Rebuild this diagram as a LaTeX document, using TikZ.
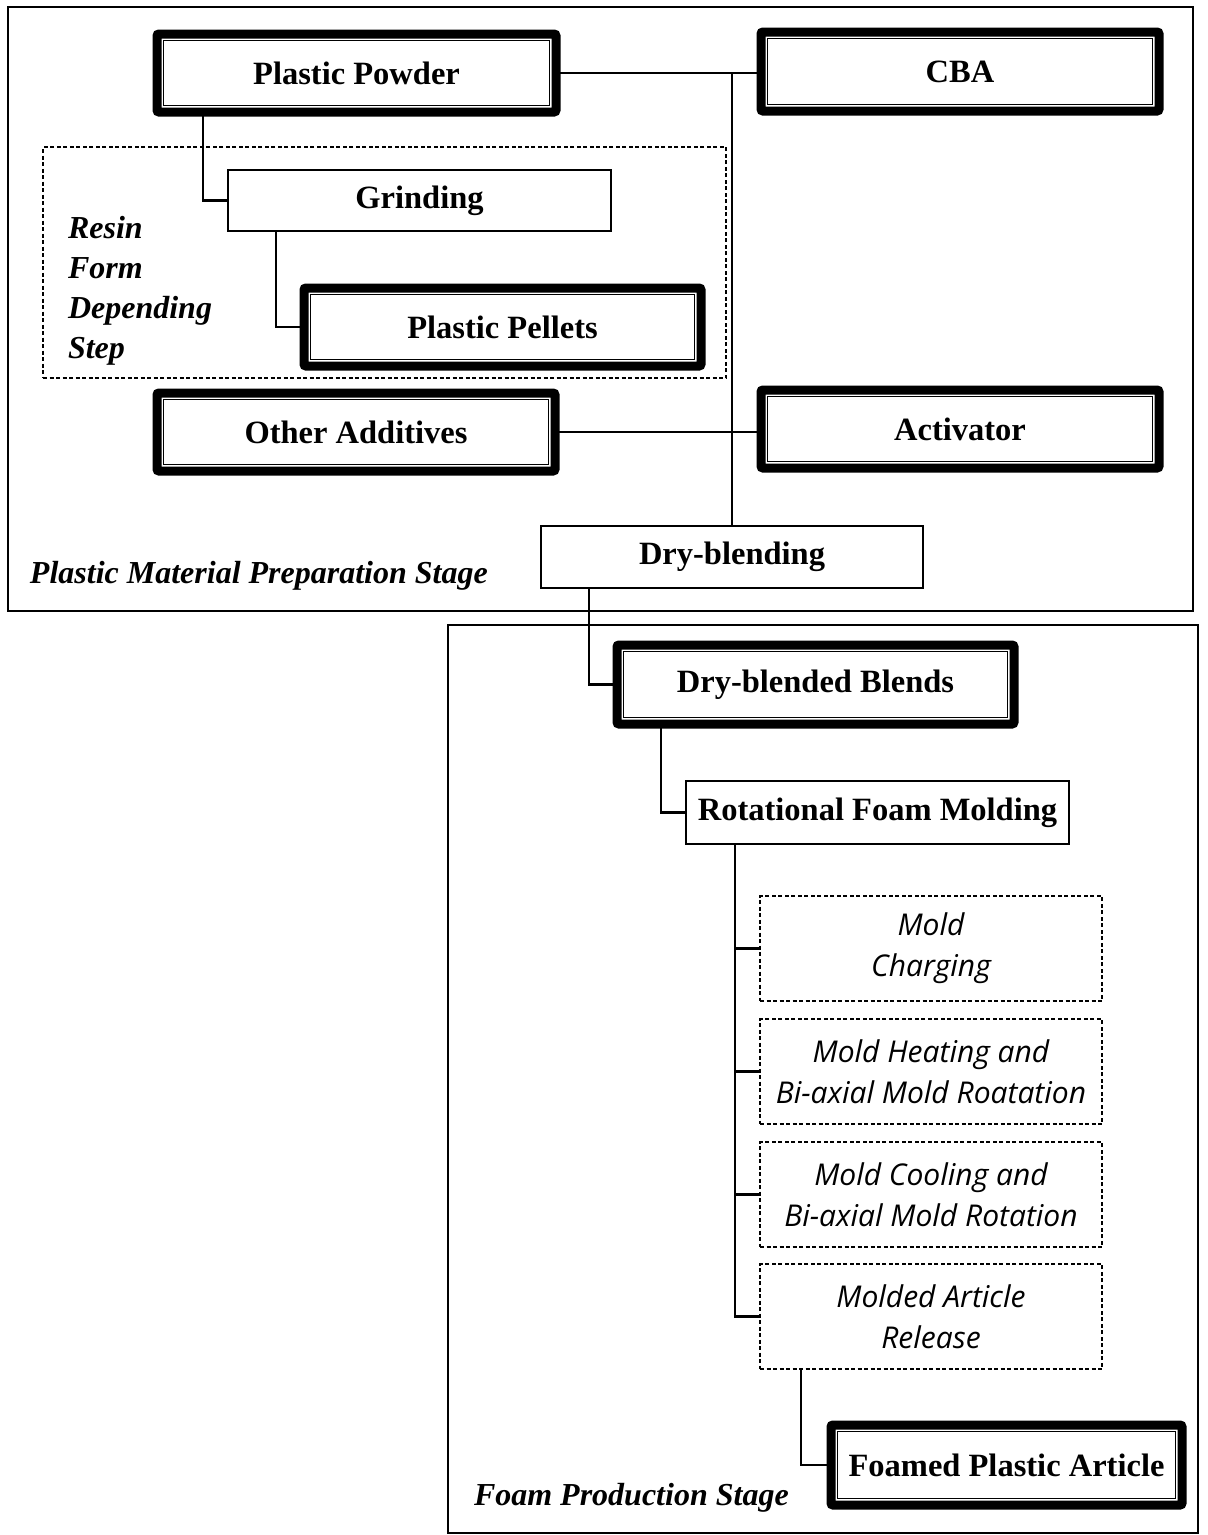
\documentclass[tikz,border=0pt]{standalone}
\usepackage{fontspec}
\setmainfont{Liberation Serif}
\newfontfamily\stepfont[Ligatures=NoCommon]{Open Sans}
\newcommand\boldtext{\fontsize{32.5}{39}\selectfont\bfseries}
\newcommand\stagetext{\fontsize{32}{40}\selectfont\bfseries\itshape}
\newcommand\steptext{\stepfont\itshape\fontsize{30}{41}\selectfont}
\begin{document}
\begin{tikzpicture}[x=1pt,y=-1pt,
  every node/.style={inner sep=0pt, outer sep=0pt},
  link/.style={line width=2.2pt},
  heavybox/.style={draw, line width=9pt, rounded corners=2pt, font=\boldtext},
  plainbox/.style={draw, line width=2.4pt, font=\boldtext},
  stepbox/.style={draw, dash pattern=on 4pt off 2.5pt, line width=2.2pt,
    minimum width=342pt, minimum height=105pt, align=center, font=\steptext},
  groupbox/.style={draw, dash pattern=on 4pt off 2.5pt, line width=2.2pt},
  stage/.style={draw, line width=2pt},
  stagelabel/.style={font=\stagetext, anchor=base west}]
\useasboundingbox (0,0) rectangle (1208,1535);

% stage frames
\node[stage, minimum width=1185pt, minimum height=604pt] (s1) at (600.5,309) {};
\node[stage, minimum width=750pt, minimum height=908pt] (s2) at (823,1079) {};
\node[stagelabel] (s1lbl) at (30,583) {Plastic Material Preparation Stage};
\node[stagelabel] (s2lbl) at (474,1505) {Foam Production Stage};

% resin form group
\node[groupbox, minimum width=683pt, minimum height=231pt] (grp) at (384.5,262.5) {};
\node[font=\stagetext, align=left, anchor=north west] (grplbl) at (68,216)
  {Resin\\Form\\Depending\\Step};

% material boxes
\node[heavybox, minimum width=399pt, minimum height=78pt] (pp) at (356.5,73) {Plastic Powder};
\node[heavybox, minimum width=398pt, minimum height=79pt] (cba) at (960,71.5) {CBA};
\node[plainbox, minimum width=383pt, minimum height=61pt] (gr) at (419.5,200.5) {Grinding};
\node[heavybox, minimum width=397pt, minimum height=78pt] (pel) at (502.5,327) {Plastic Pellets};
\node[heavybox, minimum width=398pt, minimum height=78pt] (oa) at (356,432) {Other Additives};
\node[heavybox, minimum width=398pt, minimum height=78pt] (act) at (960,429) {Activator};
\node[plainbox, minimum width=382pt, minimum height=62pt] (db) at (732,557) {Dry-blending};

% foam production boxes
\node[heavybox, minimum width=397pt, minimum height=79pt] (dbb) at (815.5,684.5) {Dry-blended Blends};
\node[plainbox, minimum width=383pt, minimum height=63pt] (rfm) at (877.5,812.5) {Rotational Foam Molding};
\node[stepbox] (m1) at (931,948.5) {Mold\\Charging};
\node[stepbox] (m2) at (931,1071.5) {Mold Heating and\\Bi-axial Mold Roatation};
\node[stepbox] (m3) at (931,1194.5) {Mold Cooling and\\Bi-axial Mold Rotation};
\node[stepbox] (m4) at (931,1316.5) {Molded Article\\Release};
\node[heavybox, minimum width=351pt, minimum height=80pt] (fpa) at (1006.5,1465) {Foamed Plastic Article};

% inner rules of the heavy frames
\foreach \n in {pp,cba,pel,oa,act,dbb,fpa}
  \draw[line width=1.2pt] ([xshift=6.5pt,yshift=-6.5pt]\n.north west) rectangle ([xshift=-6.5pt,yshift=6.5pt]\n.south east);

% connectors
\draw[link] (pp.east) -- (pp.east -| cba.west);
\draw[link] (db.north) -- (db.north |- pp.east);
\draw[link] (oa.east) -- (oa.east -| act.west);
\draw[link] ([xshift=46pt]pp.south west) |- (gr.west);
\draw[link] ([xshift=48pt]gr.south west) |- (pel.west);
\draw[link] ([xshift=48pt]db.south west) |- (dbb.west);
\draw[link] ([xshift=44pt]dbb.south west) |- (rfm.west);
\coordinate (trunk) at ([xshift=49pt]rfm.south west);
\draw[link] (trunk) |- (m4.west);
\foreach \m in {m1,m2,m3}
  \draw[link] (\m.west) -- (\m.west -| trunk);
\draw[link] ([xshift=41pt]m4.south west) |- (fpa.west);
\end{tikzpicture}
\end{document}
